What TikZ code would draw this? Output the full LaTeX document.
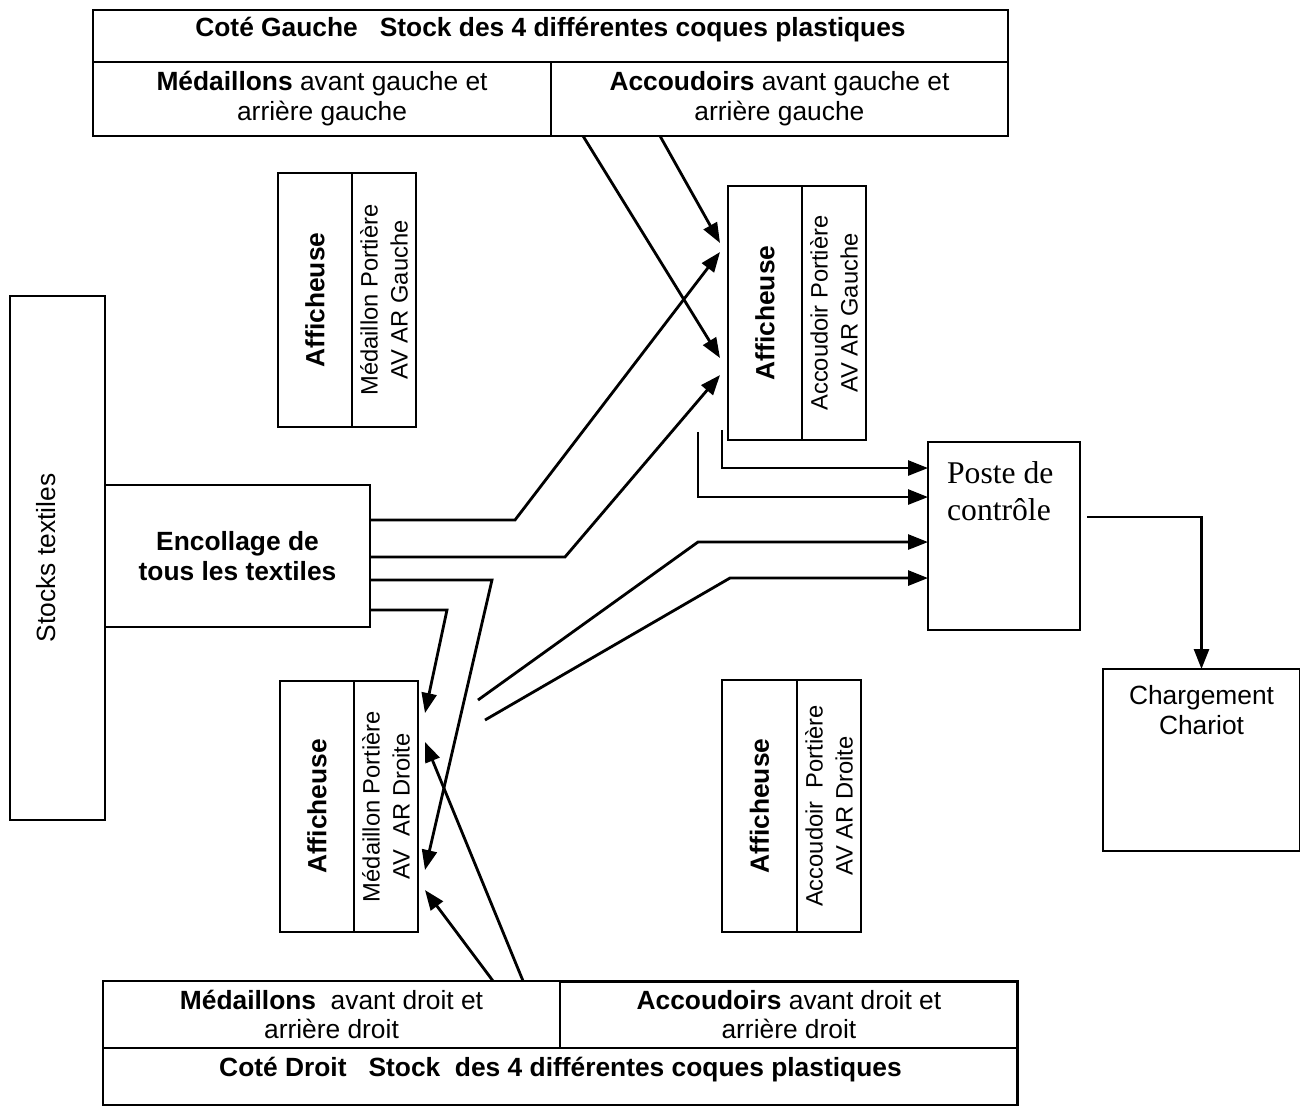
\documentclass[tikz,border=0pt]{standalone}
\usepackage{fontspec}
\setmainfont{Liberation Sans}
\newfontfamily\postefont{Liberation Serif}
\usetikzlibrary{positioning,calc,arrows.meta}

\tikzset{
  box/.style={draw=black, line width=1.6pt, outer sep=0pt, align=center},
  flow/.style={->, line width=1.6pt},
  vtext/.style={rotate=90, align=center},
  small/.style={font=\fontsize{13.5}{17}\selectfont},
}

\begin{document}
\fontsize{15}{17}\selectfont
\begin{tikzpicture}[x=0.02cm, y=-0.02cm, >={Triangle[length=0.4cm,width=0.3cm]}]
		\useasboundingbox (0,0) rectangle (1300,1105);

		% stock cote gauche
		\node[box, minimum width=18.3cm, minimum height=1.04cm, label={[yshift=0.12cm, font=\bfseries]center:{Coté Gauche~~~Stock des 4 différentes coques plastiques}}] (gtitle) at (550.5,36) {};
		\node[box, minimum width=9.16cm, minimum height=1.48cm, below right=0pt and 0pt of gtitle.south west] (gmed) {\textbf{Médaillons} avant gauche et\\arrière gauche};
		\node[box, minimum width=9.14cm, minimum height=1.48cm, right=0pt of gmed] (gacc) {\textbf{Accoudoirs} avant gauche et\\arrière gauche};

		% afficheuses
		\node[box, minimum width=1.48cm, minimum height=5.08cm, label={[vtext, font=\bfseries]center:Afficheuse}] (amgA) at (315,300) {};
		\node[box, minimum width=1.28cm, minimum height=5.08cm, right=0pt of amgA, label={[vtext, small]center:{Médaillon Portière\\AV AR Gauche}}] (amgB) {};

		\node[box, minimum width=1.48cm, minimum height=5.08cm, label={[vtext, font=\bfseries]center:Afficheuse}] (aagA) at (765,313) {};
		\node[box, minimum width=1.28cm, minimum height=5.08cm, right=0pt of aagA, label={[vtext, small]center:{Accoudoir Portière\\AV AR Gauche}}] (aagB) {};

		\node[box, minimum width=1.48cm, minimum height=5.02cm, label={[vtext, font=\bfseries]center:Afficheuse}] (amdA) at (317,806.5) {};
		\node[box, minimum width=1.28cm, minimum height=5.02cm, right=0pt of amdA, label={[vtext, small]center:{Médaillon Portière\\AV~ AR Droite}}] (amdB) {};

		\node[box, minimum width=1.5cm, minimum height=5.04cm, label={[vtext, font=\bfseries]center:Afficheuse}] (aadA) at (759.5,806) {};
		\node[box, minimum width=1.28cm, minimum height=5.04cm, right=0pt of aadA, label={[vtext, small]center:{Accoudoir~ Portière\\AV AR Droite}}] (aadB) {};

		% textiles
		\node[box, minimum width=1.9cm, minimum height=10.48cm, label={[xshift=-0.22cm, vtext]center:Stocks textiles}] (stock) at (57.5,558) {};
		\node[box, font=\bfseries, minimum width=5.3cm, minimum height=2.84cm] (enc) at (237.5,556) {Encollage de\\tous les textiles};

		% controle et chargement
		\node[box, minimum width=3.04cm, minimum height=3.76cm, label={[anchor=north west, align=left, font=\postefont\fontsize{18}{21.5}\selectfont, xshift=0.2cm, yshift=-0.2cm]north west:{Poste de\\contrôle}}] (poste) at (1004,536) {};
		\node[box, minimum width=3.94cm, minimum height=3.64cm, label={[anchor=north, align=center, yshift=-0.15cm]north:{Chargement\\Chariot}}] (charge) at (1201.5,760) {};

		% stock cote droit
		\node[box, minimum width=9.14cm, minimum height=1.3cm] (dmed) at (331.5,1014.5) {\textbf{Médaillons}~ avant droit et\\arrière droit};
		\node[box, minimum width=9.16cm, minimum height=1.3cm, right=0pt of dmed] (dacc) {\textbf{Accoudoirs} avant droit et\\arrière droit};
		\node[box, minimum width=18.3cm, minimum height=1.14cm, below right=0pt and 0pt of dmed.south west, label={[yshift=0.14cm, font=\bfseries]center:{Coté Droit~~~Stock~ des 4 différentes coques plastiques}}] (dtitle) {};

		% vers afficheuse accoudoir gauche
		\draw[flow] ([shift={(109,0)}]gacc.south west) -- ([shift={(-8,57)}]aagA.north west);
		\draw[flow] ([shift={(32,0)}]gacc.south west) -- ([shift={(-8,172)}]aagA.north west);
		\draw[flow] ([shift={(0,35)}]enc.north east) -- ++(145,0) -- ([shift={(-8,66)}]aagA.north west);
		\draw[flow] ([shift={(0,72)}]enc.north east) -- ++(195,0) -- ([shift={(-8,189)}]aagA.north west);

		% vers afficheuse medaillon droit
		\draw[flow] ([shift={(0,95)}]enc.north east) -- ++(122,0) -- ([shift={(7,189)}]amdB.north east);
		\draw[flow] ([shift={(0,125)}]enc.north east) -- ++(77,0) -- ([shift={(7,32)}]amdB.north east);
		\draw[flow] ([shift={(420,0)}]dmed.north west) -- ([shift={(7,61)}]amdB.north east);
		\draw[flow] ([shift={(390,0)}]dmed.north west) -- ([shift={(7,209)}]amdB.north east);

		% vers poste de controle
		\draw[flow] ([shift={(-6,-10)}]aagA.south west) |- ([shift={(0,26)}]poste.north west);
		\draw[flow] ([shift={(-30,-8)}]aagA.south west) |- ([shift={(0,55)}]poste.north west);
		\draw[flow] ([shift={(60,19)}]amdB.north east) -- ++(220,-158) -- ([shift={(0,100)}]poste.north west);
		\draw[flow] ([shift={(67,39)}]amdB.north east) -- ++(245,-142) -- ([shift={(0,136)}]poste.north west);

		% vers chargement
		\draw[flow] ([shift={(7,75)}]poste.north east) -| (charge.north);
	\end{tikzpicture}
\end{document}
